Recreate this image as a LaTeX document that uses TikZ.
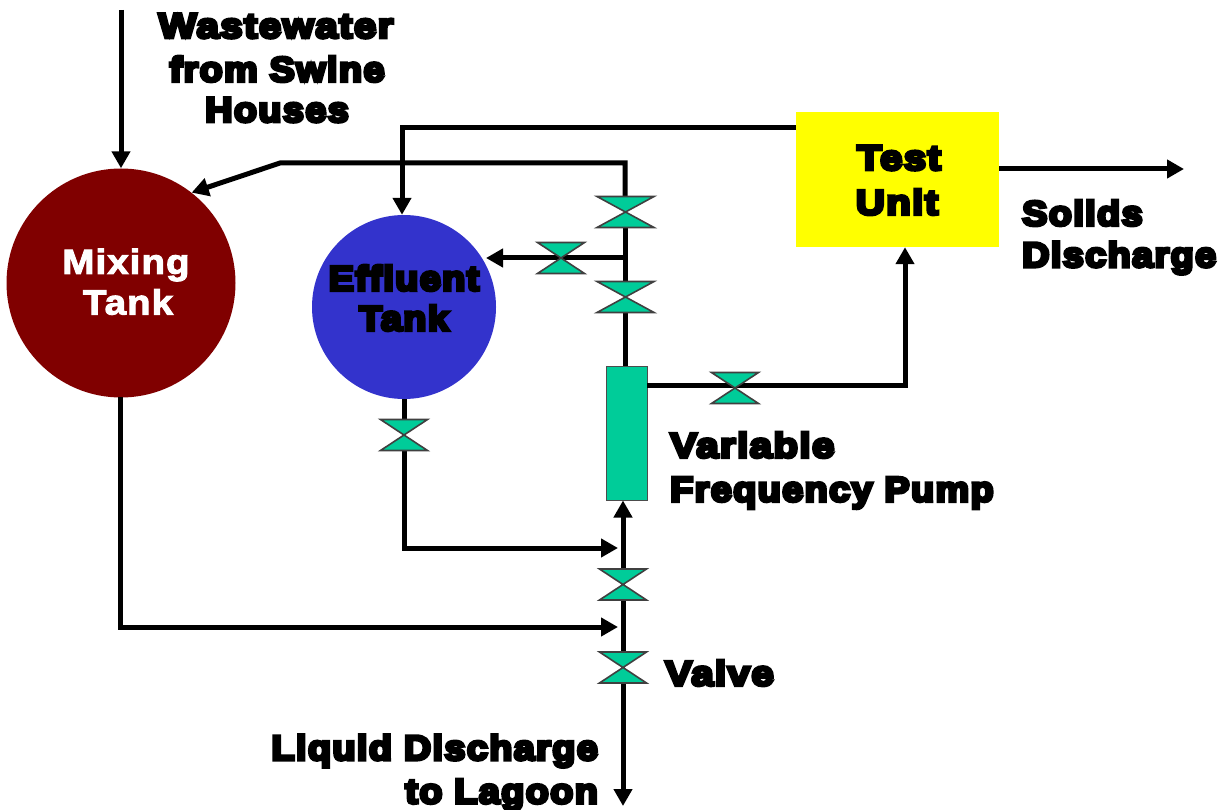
\documentclass[tikz,border=0pt]{standalone}
\usepackage{fontspec}
\setmainfont{Liberation Sans}
\newfontfamily\heavyfont[LetterSpace=4,FakeStretch=1.08]{Liberation Sans Bold}
\newfontfamily\widefont[LetterSpace=4,FakeStretch=1.15]{Liberation Sans Bold}
\newfontfamily\mediumfont[LetterSpace=3,FakeStretch=1.1]{Liberation Sans Bold}
\newcommand{\fatblack}[1]{\special{pdf:code 2 Tr 3.2 w 0 0 0 RG}#1\special{pdf:code 0 Tr 1 w}}
\newcommand{\fatwhite}[1]{\special{pdf:code 2 Tr 1 w 1 1 1 RG}#1\special{pdf:code 0 Tr 1 w}}
\usetikzlibrary{arrows.meta,calc}
\definecolor{tankred}{HTML}{800000}
\definecolor{tankblue}{HTML}{3333CC}
\definecolor{unityellow}{HTML}{FFFF00}
\definecolor{pumpgreen}{HTML}{00CC99}
\tikzset{
  pipe/.style={line width=5pt,draw=black,line join=miter},
  flow/.style={pipe,-{Triangle[length=17pt,width=18pt]}},
  tank/.style={circle,draw=none,inner sep=0pt},
  lab/.style={font=\fontsize{35}{38}\heavyfont,inner sep=0pt,text=black,align=center},
  widelab/.style={font=\fontsize{35}{38}\widefont,inner sep=0pt,text=black,align=center},
  whitelab/.style={font=\fontsize{35}{38}\mediumfont,inner sep=0pt,text=white},
  valvebig/.style={inner sep=0pt,outer sep=0pt,minimum width=57pt,minimum height=31pt},
  valvesmall/.style={inner sep=0pt,outer sep=0pt,minimum width=47pt,minimum height=31pt},
  valveshape/.style={fill=pumpgreen,draw=black!75,line width=1.6pt,line join=miter},
}
\newcommand{\valvetie}[1]{\draw[valveshape] (#1.north west) -- (#1.north east) -- (#1.south west) -- (#1.south east) -- cycle;}
\begin{document}
\begin{tikzpicture}[x=1pt,y=-1pt]
\useasboundingbox (0,0) rectangle (1231,810);
\fill[white] (0,0) rectangle (1231,810);

\node[tank,fill=tankred,minimum size=229pt] (mix) at (121,283) {};
\node[tank,fill=tankblue,minimum size=184pt] (eff) at (404,307) {};
\node[fill=unityellow,inner sep=0pt,minimum width=203pt,minimum height=135pt] (test) at (897.5,179.5) {};
\node[fill=pumpgreen,draw=black!70,line width=1pt,inner sep=0pt,minimum width=41pt,minimum height=134pt] (pump) at (626.5,433) {};

\node[valvebig] (v1) at (625.5,212) {};
\node[valvebig] (v3) at (625.5,297) {};
\node[valvesmall] (v2) at (561,258) {};
\node[valvesmall] (v4) at (735,388) {};
\node[valvesmall] (v7) at (404,435) {};
\node[valvesmall] (v5) at (623,584.5) {};
\node[valvesmall] (v6) at (623,667.5) {};

\coordinate (inTop) at (121,10);
\coordinate (recycleBendA) at (625,163);
\coordinate (recycleBendB) at (280,163);
\coordinate (teeTop) at (625,258);
\coordinate (effSide) at (486,258);
\coordinate (effTopBend) at (402,128);
\coordinate (testLeft) at (796,128);
\coordinate (testOutStart) at (999,169);
\coordinate (testOutEnd) at (1184,169);
\coordinate (pumpRight) at (647,385);
\coordinate (pumpBend) at (905,385);
\coordinate (mixBottom) at (120,397);
\coordinate (mixBend) at (120,627);
\coordinate (join1) at (618,627);
\coordinate (effBend) at (404,548);
\coordinate (join2) at (618,548);
\coordinate (outEnd) at (623,806);

% connectors
\draw[flow] (inTop) -- (mix.north -| inTop);
\draw[flow] (v1.north -| recycleBendA) -- (recycleBendA) -- (recycleBendB) -- (mix.{52});
\draw[flow] (testLeft) -- (effTopBend) -- (eff.north -| effTopBend);
\draw[flow] (testOutStart) -- (testOutEnd);
\draw[flow] (pumpRight) -- (pumpBend) -- (test.south -| pumpBend);
\draw[flow] (teeTop) -- (effSide);
\draw[flow] (mixBottom) -- (mixBend) -- (join1);
\draw[pipe] (eff.south) -- (v7.north);
\draw[flow] (v7.south) -- (effBend) -- (join2);
\draw[flow] (v5.north) -- (pump.south -| v5.north);
\draw[pipe] (v5.south) -- (v6.north);
\draw[flow] (v6.south) -- (outEnd);
\draw[pipe] (v1.south -| teeTop) -- (v3.north -| teeTop);
\draw[pipe] (v3.south -| teeTop) -- (pump.north -| teeTop);

% valves
\valvetie{v1}\valvetie{v2}\valvetie{v3}\valvetie{v4}\valvetie{v5}\valvetie{v6}\valvetie{v7}

% labels
\node[widelab] (l1) at (276,26) {\fatblack{Wastewater}};
\node[lab] (l2) at (277,69) {\fatblack{from Swine}};
\node[lab] (l3) at (277,110) {\fatblack{Houses}};
\node[whitelab] (m1) at (126,265) {\fatwhite{Mixing}};
\node[whitelab] (m2) at (128,302) {\fatwhite{Tank}};
\node[lab] (e1) at (404,278) {\fatblack{Effluent}};
\node[lab] (e2) at (404,318) {\fatblack{Tank}};
\node[widelab] (t1) at (899,158) {\fatblack{Test}};
\node[widelab] (t2) at (897,202) {\fatblack{Unit}};
\node[lab,anchor=west] (s1) at (1022,213) {\fatblack{Solids}};
\node[lab,anchor=west] (s2) at (1022,258) {\fatblack{Discharge}};
\node[widelab,anchor=west] (p1) at (670,445) {\fatblack{Variable}};
\node[lab,anchor=west] (p2) at (670,493) {\fatblack{Frequency Pump}};
\node[widelab,anchor=west] (va) at (665,673) {\fatblack{Valve}};
\node[lab,anchor=east] (d1) at (598,751) {\fatblack{Liquid Discharge}};
\node[lab,anchor=east] (d2) at (598,795) {\fatblack{to Lagoon}};
\end{tikzpicture}
\end{document}
